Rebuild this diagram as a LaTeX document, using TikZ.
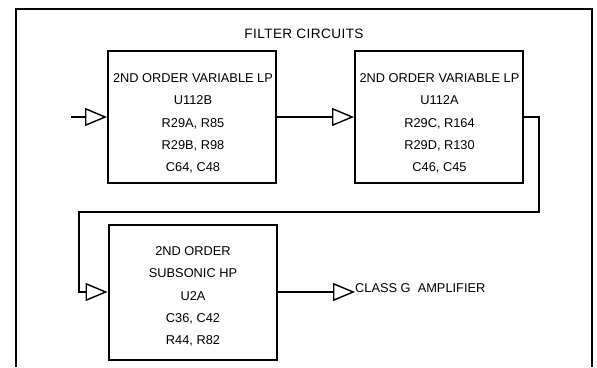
\documentclass[tikz,border=0pt]{standalone}
\usepackage{fontspec}
\setmainfont{Liberation Sans}
\usetikzlibrary{arrows.meta}
\begin{document}
\begin{tikzpicture}[x=1pt,y=-1pt,
  blk/.style={draw,line width=2pt,minimum width=168pt,minimum height=132pt,inner sep=0pt},
  blktext/.style={align=center,inner sep=0pt,font=\fontsize{12.8}{22.3}\selectfont},
  wire/.style={line width=1.6pt,-{Triangle[open,length=22pt,width=18pt,line width=1.4pt]}},
  lbl/.style={inner sep=0pt,font=\fontsize{12.8}{15}\selectfont}]
\useasboundingbox (0,0) rectangle (597,367);
\fill[white] (0,0) rectangle (597,367);
% outer frame
\draw[line width=1.8pt] (16,367) -- (16,9) -- (592,9) -- (592,367);
\node[lbl,anchor=base,font=\fontsize{13.6}{15}\selectfont] (title) at (304,38.6) {\addfontfeatures{LetterSpace=3}FILTER CIRCUITS};
% blocks
\node[blk] (b1) at (192,117) {};
\node[blk] (b2) at (439,117) {};
\node[blk,minimum height=135pt] (b3) at (192.5,292) {};
\node[blktext] (t1) at (193,123.5) {2ND ORDER VARIABLE LP\\U112B\\R29A, R85\\R29B, R98\\C64, C48};
\node[blktext] (t2) at (439.5,123.5) {2ND ORDER VARIABLE LP\\U112A\\R29C, R164\\R29D, R130\\C46, C45};
\node[blktext] (t3) at (193,296.5) {2ND ORDER\\SUBSONIC HP\\U2A\\C36, C42\\R44, R82};
\node[lbl,anchor=base west] (amp) at (355,292) {CLASS G\ \ AMPLIFIER};
% connectors
\coordinate (in) at (71,117);
\coordinate (c1) at (539,212);
\coordinate (c2) at (79,212);
\draw[wire] (in) -- (b1.west);
\draw[wire] (b1.east) -- (b2.west);
\draw[wire] (b2.east) -| (c1) -- (c2) |- (b3.west);
\draw[wire] (b3.east) -- (amp.base west);
\end{tikzpicture}
\end{document}
